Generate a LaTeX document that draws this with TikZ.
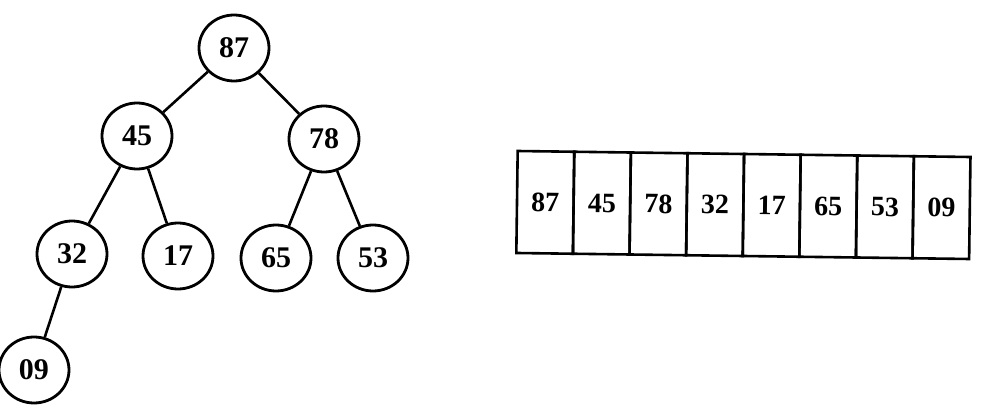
\documentclass[tikz,border=0pt]{standalone}
\usepackage{fontspec}
\setmainfont{Liberation Serif}
\usetikzlibrary{shapes.geometric}
\begin{document}
\begin{tikzpicture}[x=1pt,y=-1pt,
  tn/.style={ellipse, draw, line width=2.8pt, minimum width=70pt, minimum height=66pt, inner sep=0pt, font=\fontsize{30}{32}\selectfont\bfseries},
  ed/.style={line width=2.6pt},
  cell/.style={draw, line width=2.6pt, rotate=-0.76, minimum width=56.6pt, minimum height=102pt, inner sep=0pt, font=\fontsize{28}{30}\selectfont\bfseries}]
\useasboundingbox[fill=white] (0,0) rectangle (986,414);
% tree
\node[tn] (n87) at (234,48) {87};
\node[tn] (n45) at (137,136) {45};
\node[tn] (n78) at (324,139) {78};
\node[tn] (n32) at (72,254) {32};
\node[tn] (n17) at (178,256) {17};
\node[tn] (n65) at (276,258) {65};
\node[tn] (n53) at (373,258) {53};
\node[tn] (n09) at (34,370) {09};
\draw[ed] (n87) -- (n45);
\draw[ed] (n87) -- (n78);
\draw[ed] (n45) -- (n32);
\draw[ed] (n45) -- (n17);
\draw[ed] (n78) -- (n65);
\draw[ed] (n78) -- (n53);
\draw[ed] (n32) -- (n09);
% array
\foreach \v [count=\i from 0] in {87,45,78,32,17,65,53,09} {
  \node[cell] (c\i) at ({517+56.6*(\i+0.5)},{202+0.75*(\i+0.5)}) {\v};
}
\end{tikzpicture}
\end{document}
